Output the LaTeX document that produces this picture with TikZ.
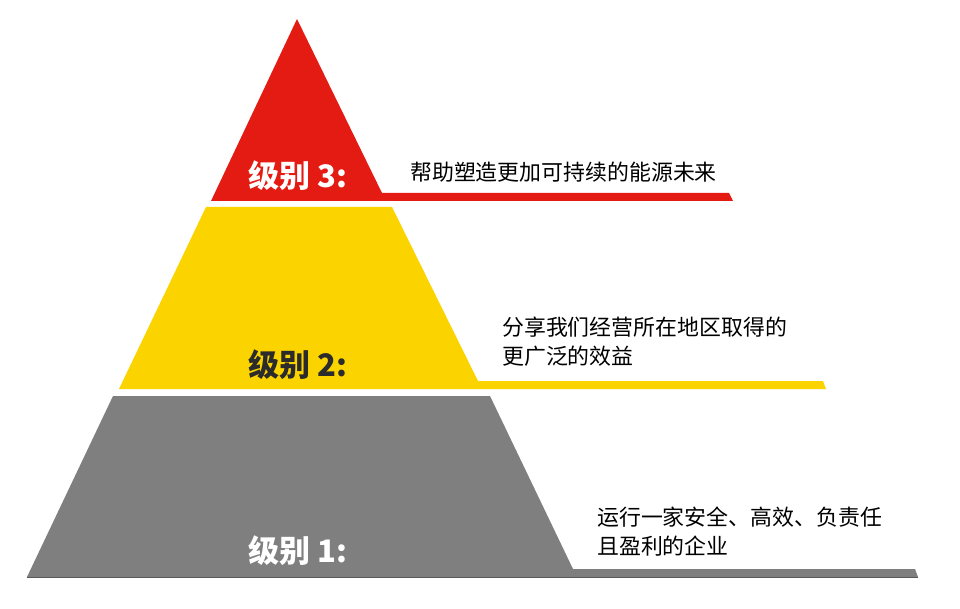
\documentclass[tikz,border=0pt]{standalone}
\usepackage{fontspec}
\newfontfamily\cjk{Noto Sans CJK SC}
\definecolor{lvred}{HTML}{E41B13}
\definecolor{lvyellow}{HTML}{FBD400}
\definecolor{lvgray}{HTML}{7F7F7F}
\definecolor{lvdark}{HTML}{2B2B2B}
\begin{document}
\begin{tikzpicture}[x=1pt,y=-1pt,
  level/.style={font=\cjk\bfseries\fontsize{31}{34}\selectfont, inner sep=0pt, anchor=west},
  desc/.style={font=\cjk\fontsize{21.9}{29}\selectfont, inner sep=0pt, anchor=west, align=left, text=black}]
\useasboundingbox (0,0) rectangle (960,609);
\fill[white] (0,0) rectangle (960,609);
% tiers
\fill[lvred] (297,19) -- (382,193) -- (729,193) -- (733,201) -- (211,201) -- cycle;
\fill[lvyellow] (206,207) -- (392,207) -- (478,381) -- (823,381) -- (826,389) -- (119,389) -- cycle;
\fill[lvgray] (113,396) -- (490,396) -- (573,569) -- (915,569) -- (918,577) -- (27,577) -- cycle;
\draw[lvgray!70!black, line width=1pt] (27,577) -- (918,577);
% level labels
\node[level, text=white] (l3) at (248,176) {级别 3:};
\node[level, text=lvdark] (l2) at (248,365) {级别 2:};
\node[level, text=white] (l1) at (248,551) {级别 1:};
% descriptions
\node[desc] (d3) at (410,172) {帮助塑造更加可持续的能源未来};
\node[desc] (d2) at (502,342) {分享我们经营所在地区取得的\\更广泛的效益};
\node[desc] (d1) at (597,532) {运行一家安全、高效、负责任\\且盈利的企业};
\end{tikzpicture}
\end{document}
